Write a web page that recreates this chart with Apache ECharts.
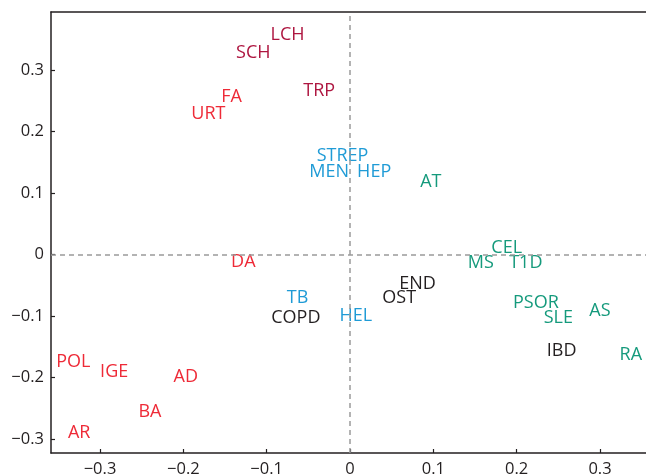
<!DOCTYPE html>
<html><head><meta charset="utf-8">
<script src="https://cdn.jsdelivr.net/npm/echarts@6/dist/echarts.min.js"></script>
<style>html,body{margin:0;padding:0;background:#fff}#c{width:646px;height:475px}</style>
</head><body><div id="c"></div>
<script>
const names = ['LCH','SCH','TRP','FA','URT','STREP','MEN','HEP','AT','CEL','MS','T1D','END','OST','PSOR','SLE','AS','IBD','RA','HEL','TB','COPD','DA','POL','IGE','AD','BA','AR'];
const xs = [-0.075,-0.116,-0.037,-0.142,-0.170,-0.009,-0.025,0.029,0.097,0.188,0.157,0.211,0.081,0.059,0.223,0.250,0.300,0.254,0.337,0.007,-0.063,-0.065,-0.128,-0.332,-0.283,-0.197,-0.240,-0.325];
const ys = [0.359,0.330,0.268,0.258,0.231,0.162,0.136,0.136,0.121,0.014,-0.012,-0.012,-0.045,-0.068,-0.076,-0.100,-0.089,-0.155,-0.160,-0.098,-0.068,-0.100,-0.009,-0.172,-0.189,-0.197,-0.253,-0.287];
const groups = ['maroon','maroon','maroon','red','red','blue','blue','blue','green','green','green','green','black','black','green','green','green','black','green','blue','blue','black','red','red','red','red','red','red'];
const xTicks = [-0.3,-0.2,-0.1,0,0.1,0.2,0.3];
const yTicks = [-0.3,-0.2,-0.1,0,0.1,0.2,0.3];
const palette = {maroon:'#ae1640', red:'#ee2a37', blue:'#1f9bd6', green:'#159a7c', black:'#231f20'};
const fmt = v => { const s = (Math.round(v*10)/10).toString(); return s.replace('-', '\u2212'); };
const data = names.map((n,i)=>({value:[xs[i],ys[i]], name:n, label:{color:palette[groups[i]]}}));
const chart = echarts.init(document.getElementById('c'));
const lineStyle = {color:'#231f20', width:1.5};
const X_MIN = -0.3588, X_MAX = 0.3552, Y_MIN = -0.3228, Y_MAX = 0.3943;
chart.setOption({
  animation:false,
  grid:{left:51, top:12, right:0, bottom:22, show:false, containLabel:false, outerBoundsMode:'none'},
  xAxis:[{
    type:'value', min:X_MIN, max:X_MAX, position:'bottom',
    axisLine:{show:true, onZero:false, lineStyle:lineStyle},
    axisTick:{show:true, inside:true, length:4, customValues:xTicks, lineStyle:{color:'#231f20', width:1.2}},
    axisLabel:{color:'#231f20', fontSize:16.5, fontFamily:'Open Sans', formatter:fmt, customValues:xTicks, margin:8},
    splitLine:{show:false}
  },{
    type:'value', min:X_MIN, max:X_MAX, position:'top',
    axisLine:{show:true, onZero:false, lineStyle:lineStyle},
    axisTick:{show:false}, axisLabel:{show:false}, splitLine:{show:false}
  }],
  yAxis:{
    type:'value', min:Y_MIN, max:Y_MAX,
    axisLine:{show:true, onZero:false, lineStyle:lineStyle},
    axisTick:{show:true, inside:true, length:4, customValues:yTicks, lineStyle:{color:'#231f20', width:1.2}},
    axisLabel:{color:'#231f20', fontSize:16.5, fontFamily:'Open Sans', formatter:fmt, customValues:yTicks, margin:7},
    splitLine:{show:false}
  },
  series:[{
    type:'scatter', symbolSize:1, itemStyle:{color:'rgba(0,0,0,0)', opacity:1},
    label:{show:true, position:'inside', offset:[0,1.5], formatter:p=>p.name, fontSize:18, fontFamily:'Open Sans'},
    data:data,
    markLine:{silent:true, symbol:'none', label:{show:false},
      lineStyle:{color:'#9a9a9a', type:[5,4], width:1.5},
      data:[{xAxis:0},{yAxis:0}]},
    z:3
  }]
});
</script></body></html>
